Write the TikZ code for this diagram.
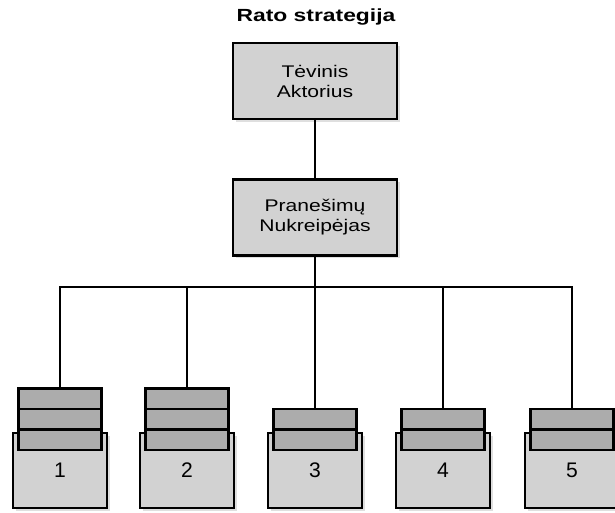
\documentclass[tikz,border=0pt]{standalone}
\usepackage{fontspec}
\setmainfont{Liberation Sans}
\newfontfamily\platus[FakeStretch=1.25]{Liberation Sans}
\newfontfamily\antrplatus[FakeStretch=1.3]{Liberation Sans}
\usetikzlibrary{shadows}
\definecolor{dezepilka}{RGB}{210,210,210}
\definecolor{eilepilka}{RGB}{172,172,172}

\tikzset{
  aktorius/.style={draw, line width=1.7pt, fill=dezepilka, minimum width=4.1cm,
    minimum height=1.9cm, inner sep=0pt, align=center,
    font=\platus\fontsize{12}{14.2}\selectfont,
    drop shadow={opacity=0.25, shadow xshift=2pt, shadow yshift=-2pt}},
  deze/.style={draw, line width=1.7pt, fill=dezepilka, minimum width=2.35cm,
    minimum height=1.875cm, inner sep=0pt, font=\fontsize{15}{17}\selectfont,
    drop shadow={opacity=0.25, shadow xshift=2pt, shadow yshift=-2pt}},
  zinute/.style={draw, line width=1.7pt, fill=eilepilka, minimum width=2.075cm,
    minimum height=0.5125cm, inner sep=0pt},
  jungtis/.style={line width=1.4pt}
}

\begin{document}
\begin{tikzpicture}[x=0.025cm, y=-0.025cm]
    \useasboundingbox (0,0) rectangle (615,512);

    % Antraste
    \node[font=\antrplatus\fontsize{12.5}{15}\selectfont\bfseries] (title) at (316,17) {Rato strategija};

    % Tevinis aktorius ir nukreipejas
    \node[aktorius] (parent) at (315,81) {Tėvinis\\Aktorius};
    \node[aktorius] (router) at (315,217.5) {Pranešimų\\Nukreipėjas};
    \coordinate (bus) at (315,287);

    \draw[jungtis] (parent) -- (router);
    \draw[jungtis] (router) -- (bus);

    % Vaikai su pasto dezutemis
    \foreach \i/\x/\n in {1/60/3, 2/187/3, 3/315/2, 4/443/2, 5/572/2} {
        \node[deze] (routee\i) at (\x,470.5) {\i};
        \foreach \k in {1,...,\n}
            \node[zinute] (m\i-\k) at (\x,{450-20.5*(\k-0.5)}) {};
        \draw[jungtis] (bus) -| (m\i-\n.north);
    }
\end{tikzpicture}
\end{document}
